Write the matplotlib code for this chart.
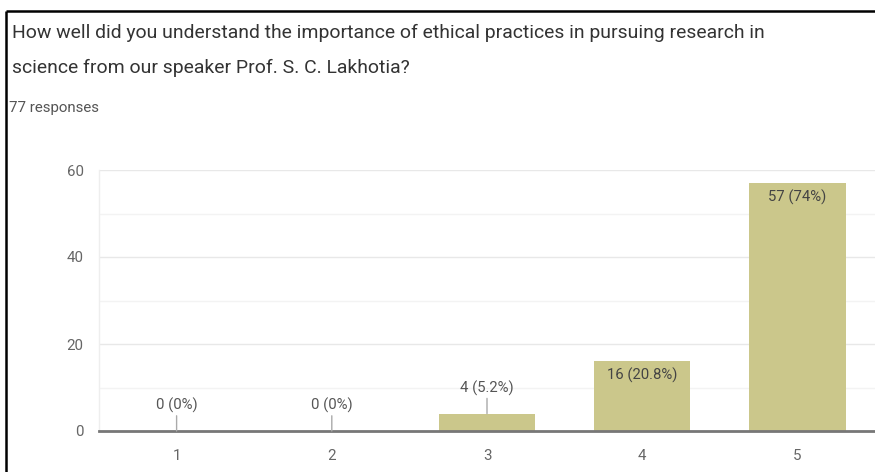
import matplotlib
matplotlib.use("Agg")
import matplotlib.pyplot as plt
from matplotlib.lines import Line2D
from matplotlib.ticker import MultipleLocator
from matplotlib import font_manager

# ---- data ----
categories = ["1", "2", "3", "4", "5"]
counts = [0, 0, 4, 16, 57]
pct_labels = ["0%", "0%", "5.2%", "20.8%", "74%"]
title_lines = [
    "How well did you understand the importance of ethical practices in pursuing research in",
    "science from our speaker Prof. S. C. Lakhotia?",
]
subtitle = "77 responses"
y_ticks = [0, 20, 40, 60]

W, H = 875, 472
DPI = 100
names = {f.name for f in font_manager.fontManager.ttflist}
fam = ['Liberation Sans Narrow', 'Roboto', 'DejaVu Sans'] if 'Liberation Sans Narrow' in names else ['Roboto', 'DejaVu Sans']
plt.rcParams['font.family'] = fam

fig = plt.figure(figsize=(W / DPI, H / DPI), dpi=DPI)
fig.patch.set_facecolor("white")
renderer = fig.canvas.get_renderer()

def fy(px):
    return 1 - px / H

def fx(px):
    return px / W

def fit(s, target):
    t = fig.text(0, 0, s, fontsize=12)
    w = t.get_window_extent(renderer).width
    t.remove()
    return 12 * target / w

# frame lines (screenshot border)
fig.add_artist(Line2D([fx(6), 1.0], [fy(11), fy(11)], color="black", lw=1.8,
                      transform=fig.transFigure, solid_capstyle="butt"))
fig.add_artist(Line2D([fx(6), fx(6)], [fy(11), 0.0], color="black", lw=1.8,
                      transform=fig.transFigure, solid_capstyle="butt"))

size_title = fit(title_lines[0], 750)
size_sub = fit(subtitle, 90)
size_tick = fit("60", 17)
size_lab = fit("57 (74%)", 58)

fig.text(fx(12), fy(38), title_lines[0], fontsize=size_title, color="#333333",
         ha="left", va="baseline")
fig.text(fx(12), fy(73), title_lines[1], fontsize=size_title, color="#333333",
         ha="left", va="baseline")
fig.text(fx(9), fy(112), subtitle, fontsize=size_sub, color="#555555",
         ha="left", va="baseline")

# axes
ax = fig.add_axes([fx(99), fy(431), 1 - fx(99), (431 - 170) / H])
x = list(range(1, len(categories) + 1))
ax.bar(x, counts, width=0.62, color="#cbc78b", zorder=3)
ax.set_xlim(0.5, len(categories) + 0.5)
ax.set_ylim(0, 60)
ax.set_xticks(x)
ax.set_xticklabels(categories)
ax.set_yticks(y_ticks)
ax.yaxis.set_minor_locator(MultipleLocator(10))
ax.grid(axis="y", which="major", color="#e8e8e8", lw=1.0, zorder=0)
ax.grid(axis="y", which="minor", color="#f3f3f3", lw=1.0, zorder=0)
ax.tick_params(axis="both", which="both", length=0, labelsize=size_tick, labelcolor="#666666")
ax.tick_params(axis="y", pad=11)
ax.tick_params(axis="x", pad=13)
for s in ["top", "right"]:
    ax.spines[s].set_visible(False)
ax.spines["left"].set_color("#eeeeee")
ax.spines["left"].set_linewidth(1.0)
ax.spines["bottom"].set_color("#777777")
ax.spines["bottom"].set_linewidth(2.0)
ax.spines["bottom"].set_zorder(4)

for xi, c, p in zip(x, counts, pct_labels):
    lab = f"{c} ({p})"
    if c >= 10:
        ax.annotate(lab, xy=(xi, c), xytext=(0, -14), textcoords="offset pixels",
                    ha="center", va="center", fontsize=size_lab, color="#444444", zorder=5)
    else:
        ax.annotate(lab, xy=(xi, c), xytext=(0, 18), textcoords="offset pixels",
                    ha="center", va="bottom", fontsize=size_lab, color="#555555", zorder=5,
                    arrowprops=dict(arrowstyle="-", color="#aaaaaa", lw=1.0,
                                    shrinkA=0, shrinkB=0))

fig.savefig("out.png", dpi=DPI, facecolor="white")
